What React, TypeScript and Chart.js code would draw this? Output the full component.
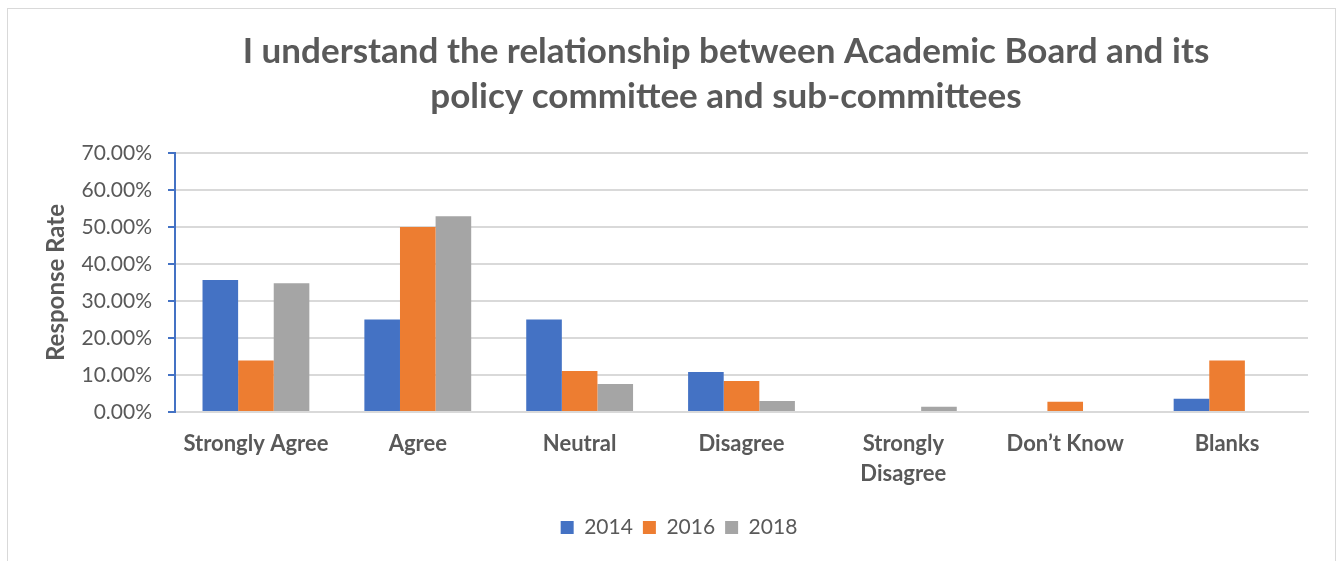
import React, { useEffect, useRef } from "react";
import { Chart, registerables } from "chart.js";

Chart.register(...registerables);

const categories: (string | string[])[] = [
  "Strongly Agree",
  "Agree",
  "Neutral",
  "Disagree",
  ["Strongly", "Disagree"],
  "Don\u2019t Know",
  "Blanks",
];

const series2014 = [35.7, 25.0, 25.0, 10.8, 0, 0, 3.6];
const series2016 = [13.9, 50.0, 11.1, 8.4, 0, 2.8, 13.9];
const series2018 = [34.8, 52.9, 7.6, 3.0, 1.4, 0, 0];

const seriesNames = ["2014", "2016", "2018"];
const titleLines = [
  "I understand the relationship between Academic Board and its",
  "policy committee and sub-committees",
];
const yAxisTitle = "Response Rate";

const FONT = "Lato, 'Open Sans', sans-serif";
const TEXT = "#595959";

// Re-centre the title and legend blocks horizontally (as in the reference layout)
const centrePlugin = {
  id: "centreBlocks",
  afterLayout(chart: any) {
    const shift = (block: any, target: number) => {
      if (!block) return;
      const d = target - (block.left + block.right) / 2;
      block.left += d;
      block.right += d;
    };
    shift(chart.titleBlock, 726);
    shift(chart.legend, 679);
  },
};

export default function App() {
  const ref = useRef<HTMLCanvasElement | null>(null);

  useEffect(() => {
    if (!ref.current) return;
    const chart = new Chart(ref.current, {
      type: "bar",
      data: {
        labels: categories,
        datasets: [
          { label: seriesNames[0], data: series2014, backgroundColor: "#4472C4" },
          { label: seriesNames[1], data: series2016, backgroundColor: "#ED7D31" },
          { label: seriesNames[2], data: series2018, backgroundColor: "#A5A5A5" },
        ],
      },
      plugins: [centrePlugin],
      options: {
        responsive: false,
        animation: false,
        devicePixelRatio: 1,
        layout: { padding: { left: 0, right: 32, top: 0, bottom: 13 } },
        datasets: {
          bar: { categoryPercentage: 0.66, barPercentage: 1.0 },
        },
        plugins: {
          title: {
            display: true,
            text: titleLines,
            color: TEXT,
            font: { family: FONT, size: 35, weight: "bold", lineHeight: "45px" },
            padding: { top: 29.5, bottom: 33.5 },
          },
          legend: {
            position: "bottom",
            labels: {
              color: TEXT,
              font: { family: FONT, size: 21 },
              boxWidth: 13,
              boxHeight: 13,
              padding: 10,
            },
          },
          tooltip: { enabled: false },
        },
        scales: {
          x: {
            grid: { display: false, drawTicks: false },
            border: { color: "#d9d9d9", width: 2 },
            ticks: {
              color: TEXT,
              font: { family: FONT, size: 22, weight: "bold", lineHeight: "30px" },
              padding: 17,
              maxRotation: 0,
              autoSkip: false,
            },
            afterFit: (scale: any) => {
              scale.height = 95;
            },
          },
          y: {
            min: 0,
            max: 70,
            grid: {
              color: "#d9d9d9",
              lineWidth: 2,
              tickColor: "#4472C4",
              tickLength: 7,
            },
            border: { color: "#4472C4", width: 2 },
            ticks: {
              stepSize: 10,
              color: TEXT,
              padding: 16,
              font: { family: FONT, size: 21 },
              callback: (v: any) => Number(v).toFixed(2) + "%",
            },
            title: {
              display: true,
              text: yAxisTitle,
              color: TEXT,
              font: { family: FONT, size: 24, weight: "bold", lineHeight: 1.2 },
              padding: { top: 42, bottom: 0 },
            },
            afterFit: (scale: any) => {
              scale.width = 175;
            },
          },
        },
      },
    });
    return () => chart.destroy();
  }, []);

  return (
    <div
      style={{
        position: "fixed",
        left: 0,
        top: 0,
        width: 1340,
        height: 561,
        overflow: "hidden",
        background: "#ffffff",
      }}
    >
      <div
        style={{
          position: "absolute",
          left: 7,
          top: 8,
          width: 1329,
          height: 600,
          border: "1px solid #d9d9d9",
          boxSizing: "border-box",
        }}
      />
      <canvas
        ref={ref}
        width={1340}
        height={561}
        style={{ position: "absolute", left: 0, top: 0 }}
      />
    </div>
  );
}
